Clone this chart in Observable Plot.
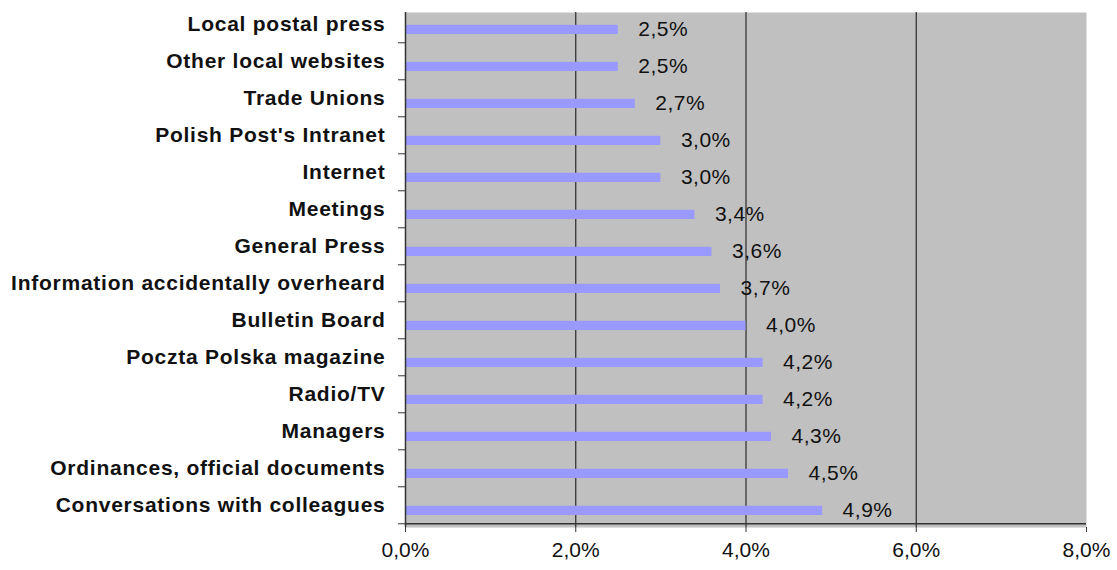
<!DOCTYPE html>
<html>
<head>
<meta charset="utf-8">
<script src="https://cdn.jsdelivr.net/npm/d3@7"></script>
<script src="https://cdn.jsdelivr.net/npm/@observablehq/plot@0.6"></script>
<style>
  html, body { margin: 0; padding: 0; background: #fff; }
  g[aria-label="y-axis tick label"] text { letter-spacing: 0.75px; }
  g[aria-label="text"] text { letter-spacing: 0.5px; }
</style>
</head>
<body>
<div id="chart"></div>
<script>
const categories = [
  "Local postal press",
  "Other local websites",
  "Trade Unions",
  "Polish Post's Intranet",
  "Internet",
  "Meetings",
  "General Press",
  "Information accidentally overheard",
  "Bulletin Board",
  "Poczta Polska magazine",
  "Radio/TV",
  "Managers",
  "Ordinances, official documents",
  "Conversations with colleagues"
];
const values = [2.5, 2.5, 2.7, 3.0, 3.0, 3.4, 3.6, 3.7, 4.0, 4.2, 4.2, 4.3, 4.5, 4.9];
const xTicks = [0, 2, 4, 6, 8];
const gridTicks = [2, 4, 6];

const data = categories.map((c, i) => ({category: c, value: values[i]}));
const fmt = v => v.toFixed(1).replace(".", ",") + "%";

const W = 1117, H = 570, mTop = 1, mBottom = 43;
const band = (H - mTop - mBottom) / categories.length;

const chart = Plot.plot({
  width: W,
  height: H,
  marginLeft: 405,
  marginRight: 31,
  marginTop: mTop,
  marginBottom: mBottom,
  style: {fontFamily: "'Liberation Sans', Arial, sans-serif", background: "#fff", color: "#111"},
  x: {domain: [0, 8], label: null},
  y: {domain: categories, padding: 0, label: null},
  marks: [
    Plot.frame({fill: "#c0c0c0", insetTop: 11}),
    Plot.gridX(gridTicks, {stroke: "#2a2a2a", strokeOpacity: 1, strokeWidth: 1.2, insetTop: 11}),
    Plot.barX(data, {x: "value", y: "category", fill: "#9999ff", insetTop: band / 2 + 1, insetBottom: 8}),
    Plot.text(data, {x: "value", y: "category", text: d => fmt(d.value), dx: 20, dy: 5, textAnchor: "start", fontSize: 21, fill: "#111"}),
    Plot.ruleX([0], {stroke: "#333", strokeWidth: 1.5, insetTop: 11}),
    Plot.ruleY([categories[categories.length - 1]], {stroke: "#333", strokeWidth: 1.5, dy: band / 2}),
    Plot.axisX({ticks: xTicks, tickFormat: fmt, tickSize: 5, tickPadding: 10, fontSize: 21, stroke: "#333", fill: "#111"}),
    Plot.axisY({tickSize: 0, tickPadding: 20, fontSize: 21, fontWeight: "bold", fill: "#111"}),
    Plot.axisY({tickSize: 7, tickFormat: () => "", dy: band / 2, stroke: "#333"})
  ]
});
document.getElementById("chart").appendChild(chart);
</script>
</body>
</html>
